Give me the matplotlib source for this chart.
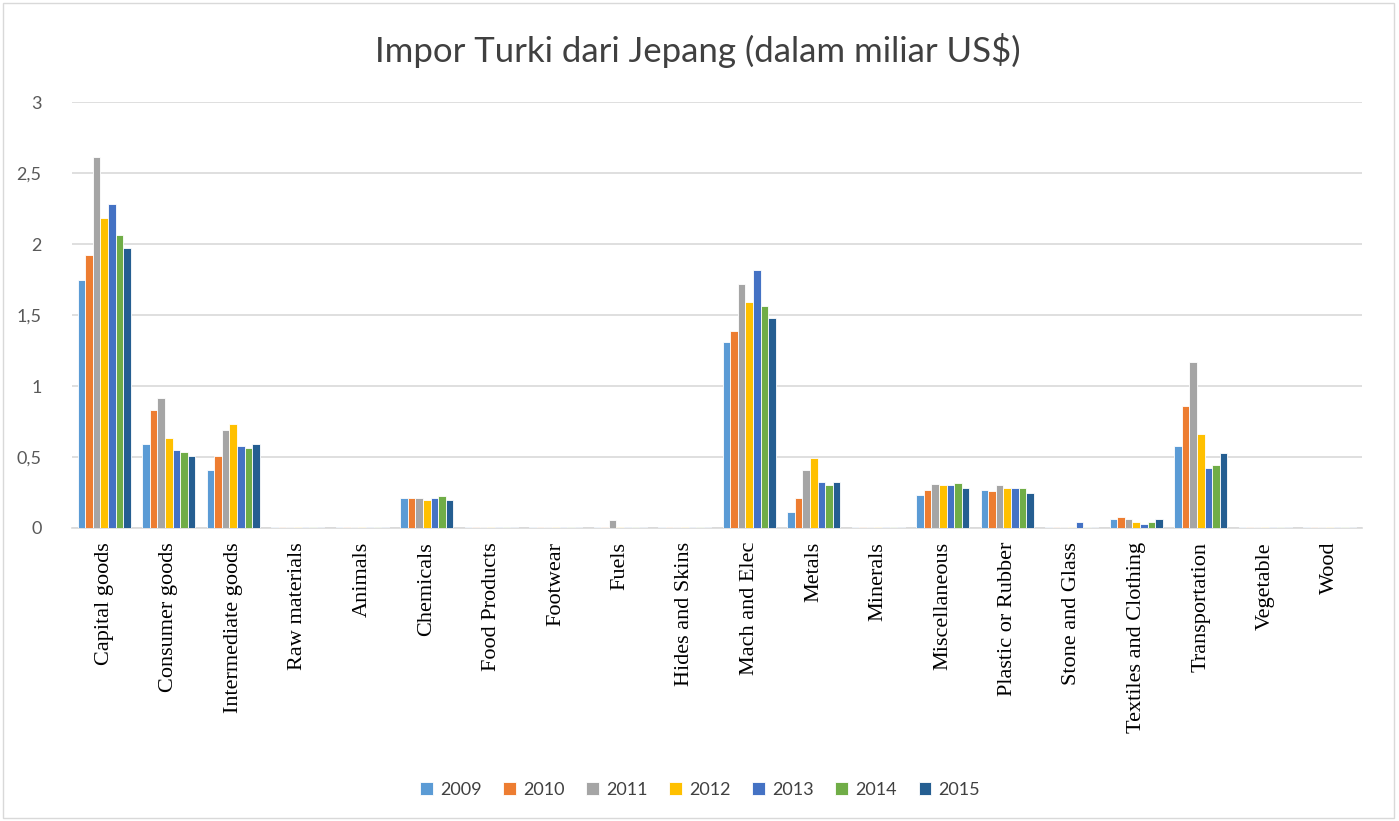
import matplotlib
matplotlib.use("Agg")
import matplotlib.pyplot as plt
import numpy as np
from matplotlib.patches import Rectangle

categories = ["Capital goods", "Consumer goods", "Intermediate goods", "Raw materials",
              "Animals", "Chemicals", "Food Products", "Footwear", "Fuels",
              "Hides and Skins", "Mach and Elec", "Metals", "Minerals",
              "Miscellaneous", "Plastic or Rubber", "Stone and Glass",
              "Textiles and Clothing", "Transportation", "Vegetable", "Wood"]
years = ["2009", "2010", "2011", "2012", "2013", "2014", "2015"]

v2009 = [1.75, 0.59, 0.41, 0.005, 0.005, 0.21, 0.005, 0.005, 0.005, 0.005, 1.31, 0.115, 0.005, 0.23, 0.27, 0.005, 0.06, 0.58, 0.005, 0.005]
v2010 = [1.92, 0.83, 0.51, 0.005, 0.005, 0.21, 0.005, 0.005, 0.005, 0.005, 1.39, 0.21, 0.005, 0.27, 0.26, 0.005, 0.075, 0.86, 0.005, 0.005]
v2011 = [2.61, 0.915, 0.69, 0.005, 0.005, 0.21, 0.005, 0.005, 0.055, 0.005, 1.72, 0.41, 0.005, 0.31, 0.30, 0.005, 0.06, 1.17, 0.005, 0.005]
v2012 = [2.18, 0.635, 0.73, 0.005, 0.005, 0.195, 0.005, 0.005, 0.005, 0.005, 1.59, 0.495, 0.005, 0.30, 0.285, 0.005, 0.045, 0.66, 0.005, 0.005]
v2013 = [2.28, 0.55, 0.58, 0.005, 0.005, 0.21, 0.005, 0.005, 0.005, 0.005, 1.82, 0.326, 0.005, 0.30, 0.285, 0.045, 0.03, 0.42, 0.005, 0.005]
v2014 = [2.06, 0.535, 0.565, 0.005, 0.005, 0.225, 0.005, 0.005, 0.005, 0.005, 1.56, 0.30, 0.005, 0.315, 0.285, 0.005, 0.04, 0.445, 0.005, 0.005]
v2015 = [1.97, 0.51, 0.59, 0.005, 0.005, 0.195, 0.005, 0.005, 0.005, 0.005, 1.48, 0.326, 0.005, 0.285, 0.245, 0.005, 0.06, 0.53, 0.005, 0.005]
series = [v2009, v2010, v2011, v2012, v2013, v2014, v2015]
colors = ["#5b9bd5", "#ed7d31", "#a5a5a5", "#ffc000", "#4472c4", "#70ad47", "#255e91"]
yticks = [0, 0.5, 1, 1.5, 2, 2.5, 3]
ytick_labels = ["0", "0,5", "1", "1,5", "2", "2,5", "3"]

W, H = 1399, 821
fig = plt.figure(figsize=(W / 100, H / 100), dpi=100)
fig.patches.append(Rectangle((3 / W, 3 / H), 1 - 8 / W, 1 - 6 / H, transform=fig.transFigure,
                             fill=False, edgecolor="#d9d9d9", linewidth=1))
ax = fig.add_axes([72 / W, 1 - 528 / H, (1362 - 72) / W, (528 - 102) / H])

n = len(series)
x = np.arange(len(categories))
group = 0.82
bw = group / n
for i, (vals, c) in enumerate(zip(series, colors)):
    ax.bar(x - group / 2 + bw * (i + 0.5), vals, width=bw, color=c,
           edgecolor="white", linewidth=0.6, label=years[i], zorder=3)

ax.set_xlim(-0.5, len(categories) - 0.5)
ax.set_ylim(0, 3)
ax.set_yticks(yticks)
ax.set_yticklabels(ytick_labels, fontsize=13, color="#595959", family="Lato")
ax.yaxis.grid(True, color="#d9d9d9", linewidth=1.2, zorder=0)
ax.tick_params(axis="y", length=0, pad=22)
ax.tick_params(axis="x", length=0, pad=10)
ax.set_xticks(x)
ax.set_xticklabels(categories, rotation=90, fontsize=16, family="Liberation Serif", color="black")
for s in ["top", "right", "left"]:
    ax.spines[s].set_visible(False)
ax.spines["bottom"].set_color("#d9d9d9")
ax.spines["bottom"].set_linewidth(1.2)

fig.text(698 / W, 1 - 50 / H, "Impor Turki dari Jepang (dalam miliar US$)", ha="center", va="center",
         fontsize=25, color="#404040", family="Lato")

leg = fig.legend(loc="center", bbox_to_anchor=(700 / W, 1 - 790 / H), ncol=7, frameon=False,
                 fontsize=13, handlelength=0.7, handleheight=0.7, columnspacing=1.2, handletextpad=0.4)
for t in leg.get_texts():
    t.set_color("#404040")
    t.set_family("Lato")

fig.savefig("out.png", dpi=100)
